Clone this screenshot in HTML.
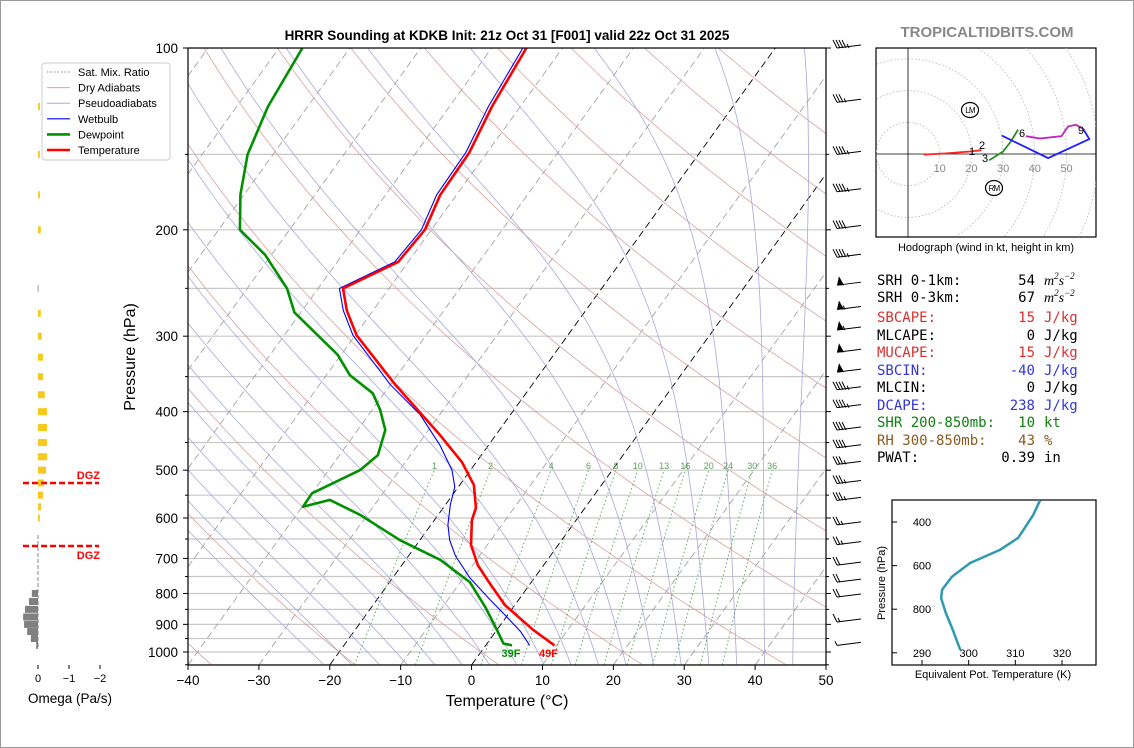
<!DOCTYPE html>
<html><head><meta charset="utf-8">
<style>
html,body{margin:0;padding:0;background:#fff;}
svg{display:block;font-family:"Liberation Sans","DejaVu Sans",sans-serif;}
.mono{font-family:"DejaVu Sans Mono","Liberation Mono",monospace;font-size:14px;}
</style></head>
<body>
<svg id="fig" width="1134" height="748" viewBox="0 0 1134 748" xmlns="http://www.w3.org/2000/svg">
<rect x="0.5" y="0.5" width="1133" height="747" fill="#fff" stroke="#999"/>
<defs><clipPath id="skclip"><rect x="188" y="48" width="638" height="617"/></clipPath>
<clipPath id="hclip"><rect x="876" y="48" width="220" height="189"/></clipPath></defs>
<text x="507" y="40" text-anchor="middle" font-size="13.5" font-weight="bold">HRRR Sounding at KDKB Init: 21z Oct 31 [F001] valid 22z Oct 31 2025</text>
<text x="987" y="37" text-anchor="middle" font-size="15" font-weight="bold" fill="#888">TROPICALTIDBITS.COM</text>
<g id="bg" clip-path="url(#skclip)"></g>
<g id="prof" clip-path="url(#skclip)"></g>
<rect x="188" y="48" width="638" height="617" fill="none" stroke="#000" stroke-width="1.2"/>
<g id="axes"></g>
<text x="507" y="706" text-anchor="middle" font-size="16">Temperature (°C)</text>
<text transform="translate(135,357) rotate(-90)" text-anchor="middle" font-size="16">Pressure (hPa)</text>
<g id="legend">
<rect x="42" y="63" width="128" height="97" rx="3" fill="#fff" stroke="#ccc"/>
</g>
<g id="barbs"></g>
<g id="omega"></g>
<g id="hodo"></g>
<text x="986" y="251" text-anchor="middle" font-size="11">Hodograph (wind in kt, height in km)</text>
<g id="stats" class="mono"></g>
<g id="thetae"></g>
</svg>
<script>
// ---- data ----
const tempP=[975,919,836,769,718,665,605,577,529,485,437,361,299,272,250,226,200,175,149,125,100];
const tempT=[9.7,5.1,-1.4,-5.8,-9.3,-12.3,-14.7,-15.4,-18.0,-22.0,-27.9,-39.3,-49.8,-53.7,-56.5,-51.4,-50.9,-52.3,-52.5,-54.0,-55.1];
const dewP=[975,968,919,842,766,704,653,593,560,575,546,500,472,429,397,373,348,322,274,250,220,200,175,150,125,100];
const dewT=[3.7,2.3,0,-4,-8.7,-15.1,-22.8,-31,-36.8,-39.9,-40,-35.6,-34.6,-36.1,-38.9,-41.6,-46.7,-50.5,-60.9,-64.4,-70.9,-77,-80.5,-83.6,-85.6,-86.7];
const wbP=[975,925,868,820,754,693,653,616,571,533,500,454,405,361,299,272,250,226,200,175,149,125,100];
const wbT=[6.2,3.5,-0.4,-4,-9.1,-13.4,-15.8,-17.6,-19.3,-20.5,-22.6,-26.9,-32.7,-40.0,-50.3,-54.2,-57.0,-51.9,-51.4,-52.8,-53.0,-54.5,-55.6];
const barbP=[100,123,150,173,199,222,247,271,293,319,344,368,394,429,459,489,526,561,616,664,718,766,811,892,975];
const barbSpd=[45,35,45,45,40,45,50,55,55,50,50,45,45,40,40,35,35,35,25,25,20,20,20,15,5];
const omegaP=[125,150,175,200,250,275,300,325,350,375,400,425,450,475,500,525,550,575,600,800,825,850,875,900,925,950,975];
const omegaVal=[-0.06,-0.06,-0.06,-0.09,0.01,-0.09,-0.12,-0.16,-0.16,-0.22,-0.29,-0.29,-0.29,-0.29,-0.26,-0.19,-0.16,-0.1,-0.06,0.2,0.29,0.42,0.48,0.45,0.35,0.23,0.06];
const thetaeP=[300,369,473,528,588,651,711,749,817,895,987];
const thetaeVal=[315.3,313.8,310.6,306.7,300.3,296.4,294.3,294.1,295.1,296.6,298.2];
const hodoRedU=[5,12,19.5,23.2], hodoRedV=[-0.2,0.2,0.8,1.2];
const hodoGreenU=[25.6,30,32.5,34.7], hodoGreenV=[-2,0.8,4,7.7];
const hodoBlueU=[29.6,44.2,57.2,55.3], hodoBlueV=[5.8,-1.3,4.7,7.9];
const hodoMagU=[37.2,41.6,48.4,50.5,53,55.3], hodoMagV=[5.6,4.9,5.6,8.7,9.2,7.9];
const pTicks=[100,200,300,400,500,600,700,800,900,1000];
const tTicks=[-40,-30,-20,-10,0,10,20,30,40,50];
const mixW=[1,2,4,6,8,10,13,16,20,24,30,36];

const NS='http://www.w3.org/2000/svg';
function mk(parent,tag,attrs){const e=document.createElementNS(NS,tag);for(const k in attrs)e.setAttribute(k,attrs[k]);parent.appendChild(e);return e;}
function yP(p){return 48+604*Math.log10(p/100);}
function xT(T,p){return 188+(T+40)*7.089+(665-yP(p))*0.722;}
function pts(Ps,Ts){return Ps.map((p,i)=>xT(Ts[i],p).toFixed(1)+','+yP(p).toFixed(1)).join(' ');}

const bg=document.getElementById('bg');
for(let p=100;p<=1050;p+=50){const l=mk(bg,'line',{x1:188,x2:826,y1:yP(p),y2:yP(p),stroke:'#c8c8c8','stroke-width':1.2});

}
for(let T=-130;T<=50;T+=10){const l=mk(bg,'line',{x1:xT(T,1050),y1:yP(1050),x2:xT(T,100),y2:yP(100),stroke:(T==0||T==-20)?'#000':'#999','stroke-dasharray':'7,4','stroke-width':(T==0||T==-20)?0.9:0.8});

}
for(let t0=-60;t0<=200;t0+=20){const th=t0+273.15;let a=[];for(let p=1050;p>=100;p-=10){const T=th*Math.pow(p/1000,0.2857)-273.15;a.push(xT(T,p).toFixed(1)+','+yP(p).toFixed(1));}
const l=mk(bg,'polyline',{points:a.join(' '),fill:'none',stroke:'#d9a0a0','stroke-width':0.8});

}
function rs(T,p){const es=6.112*Math.exp(17.67*T/(T+243.5));return 0.622*es/(p-es);}
function dTdp(T,p){const Tk=T+273.15,r=rs(T,p),Lv=2.5e6,Rd=287,cp=1005;return (Rd*Tk+Lv*r)/(p*(cp+Lv*Lv*r*0.622/(Rd*Tk*Tk)));}
for(let tw=-24;tw<=44;tw+=4){let a=[];let T=tw,p=1000;
let T2=tw;for(let pp=1000;pp<1050;pp+=5){T2+=dTdp(T2,pp)*5;}a.push(xT(T2,1050).toFixed(1)+','+yP(1050).toFixed(1));
while(p>=100){a.push(xT(T,p).toFixed(1)+','+yP(p).toFixed(1));T-=dTdp(T,p)*5;p-=5;}
const l=mk(bg,'polyline',{points:a.join(' '),fill:'none',stroke:'#a8a8dc','stroke-width':0.8});

}
function tdw(w,p){const e=w/1000*p/(0.622+w/1000);const L=Math.log(e/6.112);return 243.5*L/(17.67-L);}
mixW.forEach(w=>{let a=[];for(let p=1050;p>=500;p-=10)a.push(xT(tdw(w,p),p).toFixed(1)+','+yP(p).toFixed(1));
const l=mk(bg,'polyline',{points:a.join(' '),fill:'none',stroke:'#5aa05a','stroke-width':0.9,'stroke-dasharray':'1.5,2.5'});


const t=mk(bg,'text',{x:xT(tdw(w,500),500),y:469,'text-anchor':'middle','font-size':9,fill:'#5aa05a'});t.textContent=w;

});

const prof=document.getElementById('prof');
let e=mk(prof,'polyline',{points:pts(wbP,wbT),fill:'none',stroke:'#0000ff','stroke-width':1.1});


e=mk(prof,'polyline',{points:pts(dewP,dewT),fill:'none',stroke:'#009000','stroke-width':2.6,'stroke-linejoin':'round'});


e=mk(prof,'polyline',{points:pts(tempP,tempT),fill:'none',stroke:'#ff0000','stroke-width':2.6,'stroke-linejoin':'round'});


e=mk(prof,'text',{x:xT(dewT[0],975)-1,y:657,'text-anchor':'middle','font-size':11,'font-weight':'bold',fill:'#009000'});e.textContent='39F';


e=mk(prof,'text',{x:xT(tempT[0],975)-6,y:657,'text-anchor':'middle','font-size':11,'font-weight':'bold',fill:'#ff0000'});e.textContent='49F';



const ax=document.getElementById('axes');
for(let p=100;p<=1050;p+=50){const maj=pTicks.includes(p);mk(ax,'line',{x1:188-(maj?5:3),x2:188,y1:yP(p),y2:yP(p),stroke:'#000'});mk(ax,'line',{x1:826,x2:826+(maj?5:3),y1:yP(p),y2:yP(p),stroke:'#000'});}
pTicks.forEach(p=>{const t=mk(ax,'text',{x:178,y:yP(p)+5,'text-anchor':'end','font-size':13.5});t.textContent=p;

});
tTicks.forEach(T=>{const x=188+(T+40)*7.089;mk(ax,'line',{x1:x,x2:x,y1:665,y2:670,stroke:'#000'});
const t=mk(ax,'text',{x:x,y:685,'text-anchor':'middle','font-size':13.5});t.textContent=(T<0?'\u2212':'')+Math.abs(T);

});

const lg=document.getElementById('legend');
const lgItems=[['Sat. Mix. Ratio','#5aa05a',1,'1.5,2'],['Dry Adiabats','#e0a0a0',1,''],['Pseudoadiabats','#a8a8dc',1,''],['Wetbulb','#0000ff',1.2,''],['Dewpoint','#009000',2.6,''],['Temperature','#ff0000',2.6,'']];
lgItems.forEach((it,i)=>{const y=72+i*15.6;mk(lg,'line',{x1:47,x2:70,y1:y,y2:y,stroke:it[1],'stroke-width':it[2],'stroke-dasharray':it[3]});
const t=mk(lg,'text',{x:78,y:y+4,'font-size':11});t.textContent=it[0];

});

const bb=document.getElementById('barbs');
barbP.forEach((p,i)=>{const y=yP(p),x0=837;let s=barbSpd[i];const g=mk(bb,'g',{});


mk(g,'line',{x1:x0,y1:y,x2:861,y2:y-3,stroke:'#000','stroke-width':1});let x=x0;
while(s>=50){mk(g,'polygon',{points:`${x},${y} ${x+7},${y} ${x+2},${y-9}`,fill:'#000'});x+=8;s-=50;}
while(s>=10){mk(g,'line',{x1:x,y1:y,x2:x-4,y2:y-8,stroke:'#000','stroke-width':1});x+=3;s-=10;}
if(s>=5){mk(g,'line',{x1:x,y1:y,x2:x-2,y2:y-4,stroke:'#000','stroke-width':1});}});

const om=document.getElementById('omega');
mk(om,'line',{x1:38,x2:38,y1:535,y2:648,stroke:'#888','stroke-dasharray':'4,2','stroke-width':1});
omegaP.forEach((p,i)=>{const v=omegaVal[i],y=yP(p),w=Math.abs(v)*31;const x=v>0?38-w:38;
const r=mk(om,'rect',{x:x,y:y-3.5,width:Math.max(w,0.8),height:7,fill:v>0?'#808080':'#f7c81e'});

});
[[483,'DGZ',479],[546,'DGZ',559]].forEach(d=>{mk(om,'line',{x1:23,x2:99,y1:d[0],y2:d[0],stroke:'#ff0000','stroke-width':2.5,'stroke-dasharray':'6,3'});
const t=mk(om,'text',{x:100,y:d[2],'text-anchor':'end','font-size':11,'font-weight':'bold',fill:'#ff0000'});t.textContent=d[1];

});
[[0,'0'],[-1,'\u22121'],[-2,'\u22122']].forEach(d=>{const x=38-d[0]*31;mk(om,'line',{x1:x,x2:x,y1:665,y2:669,stroke:'#000'});
const t=mk(om,'text',{x:x,y:682,'text-anchor':'middle','font-size':11});t.textContent=d[1];

});
e=mk(om,'text',{x:70,y:703,'text-anchor':'middle','font-size':13.5});e.textContent='Omega (Pa/s)';



const hd=document.getElementById('hodo');const hx=908,hy=154,hs=3.17;
mk(hd,'rect',{x:876,y:48,width:220,height:189,fill:'#fff',stroke:'#000','stroke-width':1.2});
const hg=mk(hd,'g',{'clip-path':'url(#hclip)'});
for(let r=10;r<=80;r+=10)mk(hg,'circle',{cx:hx,cy:hy,r:r*hs,fill:'none',stroke:'#bbb','stroke-dasharray':'1.5,2','stroke-width':0.9});
mk(hg,'line',{x1:876,x2:1096,y1:hy,y2:hy,stroke:'#000','stroke-width':0.8});
mk(hg,'line',{x1:hx,x2:hx,y1:48,y2:237,stroke:'#000','stroke-width':0.8});
function hp(U,V){return U.map((u,i)=>(hx+u*hs).toFixed(1)+','+(hy-V[i]*hs).toFixed(1)).join(' ');}
[[hodoRedU,hodoRedV,'#ff2020','hodo-segment-0-1km'],[hodoGreenU,hodoGreenV,'#209020','hodo-segment-3-6km'],[hodoBlueU,hodoBlueV,'#2020ff','hodo-segment-9-12km'],[hodoMagU,hodoMagV,'#c020c0','hodo-segment-6-9km']].forEach(s=>{
const l=mk(hg,'polyline',{points:hp(s[0],s[1]),fill:'none',stroke:s[2],'stroke-width':1.8});

});
[10,20,30,40,50].forEach(k=>{const t=mk(hg,'text',{x:hx+k*hs,y:172,'text-anchor':'middle','font-size':11,fill:'#888'});t.textContent=k;

});
[['1',972,155],['2',982,149],['3',985,162],['6',1022,137],['9',1081,134]].forEach(d=>{const t=mk(hg,'text',{x:d[1],y:d[2],'text-anchor':'middle','font-size':11});t.textContent=d[0];

});
[['LM',970,110],['RM',994,188]].forEach(d=>{mk(hg,'ellipse',{cx:d[1],cy:d[2],rx:8.5,ry:7.5,fill:'#fff',stroke:'#000','stroke-width':1.2});
const t=mk(hg,'text',{x:d[1],y:d[2]+3,'text-anchor':'middle','font-size':8,'letter-spacing':'-0.8'});t.textContent=d[0];

});

const st=document.getElementById('stats');
const statLines=[['SRH 0-1km:','54','#000',285,true],['SRH 0-3km:','67','#000',302,true],['SBCAPE:','15','#d83030',322,'J/kg'],['MLCAPE:','0','#000',340,'J/kg'],['MUCAPE:','15','#d83030',357,'J/kg'],['SBCIN:','-40','#3535d8',375,'J/kg'],['MLCIN:','0','#000',392,'J/kg'],['DCAPE:','238','#3535d8',410,'J/kg'],['SHR 200-850mb:','10','#108010',427,'kt'],['RH 300-850mb:','43','#8a5a20',445,'%'],['PWAT:','0.39','#000',462,'in']];
statLines.forEach(s=>{let t=mk(st,'text',{x:877,y:s[3],fill:s[2]});t.textContent=s[0];


t=mk(st,'text',{x:1035,y:s[3],fill:s[2],'text-anchor':'end'});t.textContent=s[1];


if(s[4]===true){t=mk(st,'text',{x:1044,y:s[3],'font-family':'Liberation Serif,serif','font-style':'italic','font-size':14});
t.innerHTML='m<tspan font-size="9" dy="-6">2</tspan><tspan dy="6">s</tspan><tspan font-size="9" dy="-6">\u22122</tspan>';}
else{t=mk(st,'text',{x:1044,y:s[3],fill:s[2]});t.textContent=s[4];}

});

const te=document.getElementById('thetae');
function tx(v){return 922+(v-290)*4.667;} function ty(p){return 522+(p-400)*0.218;}
mk(te,'rect',{x:892,y:500,width:204,height:165,fill:'#fff',stroke:'#000','stroke-width':1.2});
[400,600,800,1000].forEach(p=>{mk(te,'line',{x1:892,x2:897,y1:ty(p),y2:ty(p),stroke:'#000'});
if(p<1000){const t=mk(te,'text',{x:922,y:ty(p)+4,'text-anchor':'middle','font-size':11});t.textContent=p;

}});
[290,300,310,320].forEach(v=>{mk(te,'line',{x1:tx(v),x2:tx(v),y1:665,y2:660,stroke:'#000'});
const t=mk(te,'text',{x:tx(v),y:657,'text-anchor':'middle','font-size':11});t.textContent=v;

});
e=mk(te,'polyline',{points:thetaeP.map((p,i)=>tx(thetaeVal[i]).toFixed(1)+','+ty(p).toFixed(1)).join(' '),fill:'none',stroke:'#2f9ab0','stroke-width':2.5,'stroke-linejoin':'round'});


e=mk(te,'text',{x:993,y:678,'text-anchor':'middle','font-size':11});e.textContent='Equivalent Pot. Temperature (K)';


e=mk(te,'text',{transform:'translate(885,583) rotate(-90)','text-anchor':'middle','font-size':11});e.textContent='Pressure (hPa)';


</script>
</body></html>
